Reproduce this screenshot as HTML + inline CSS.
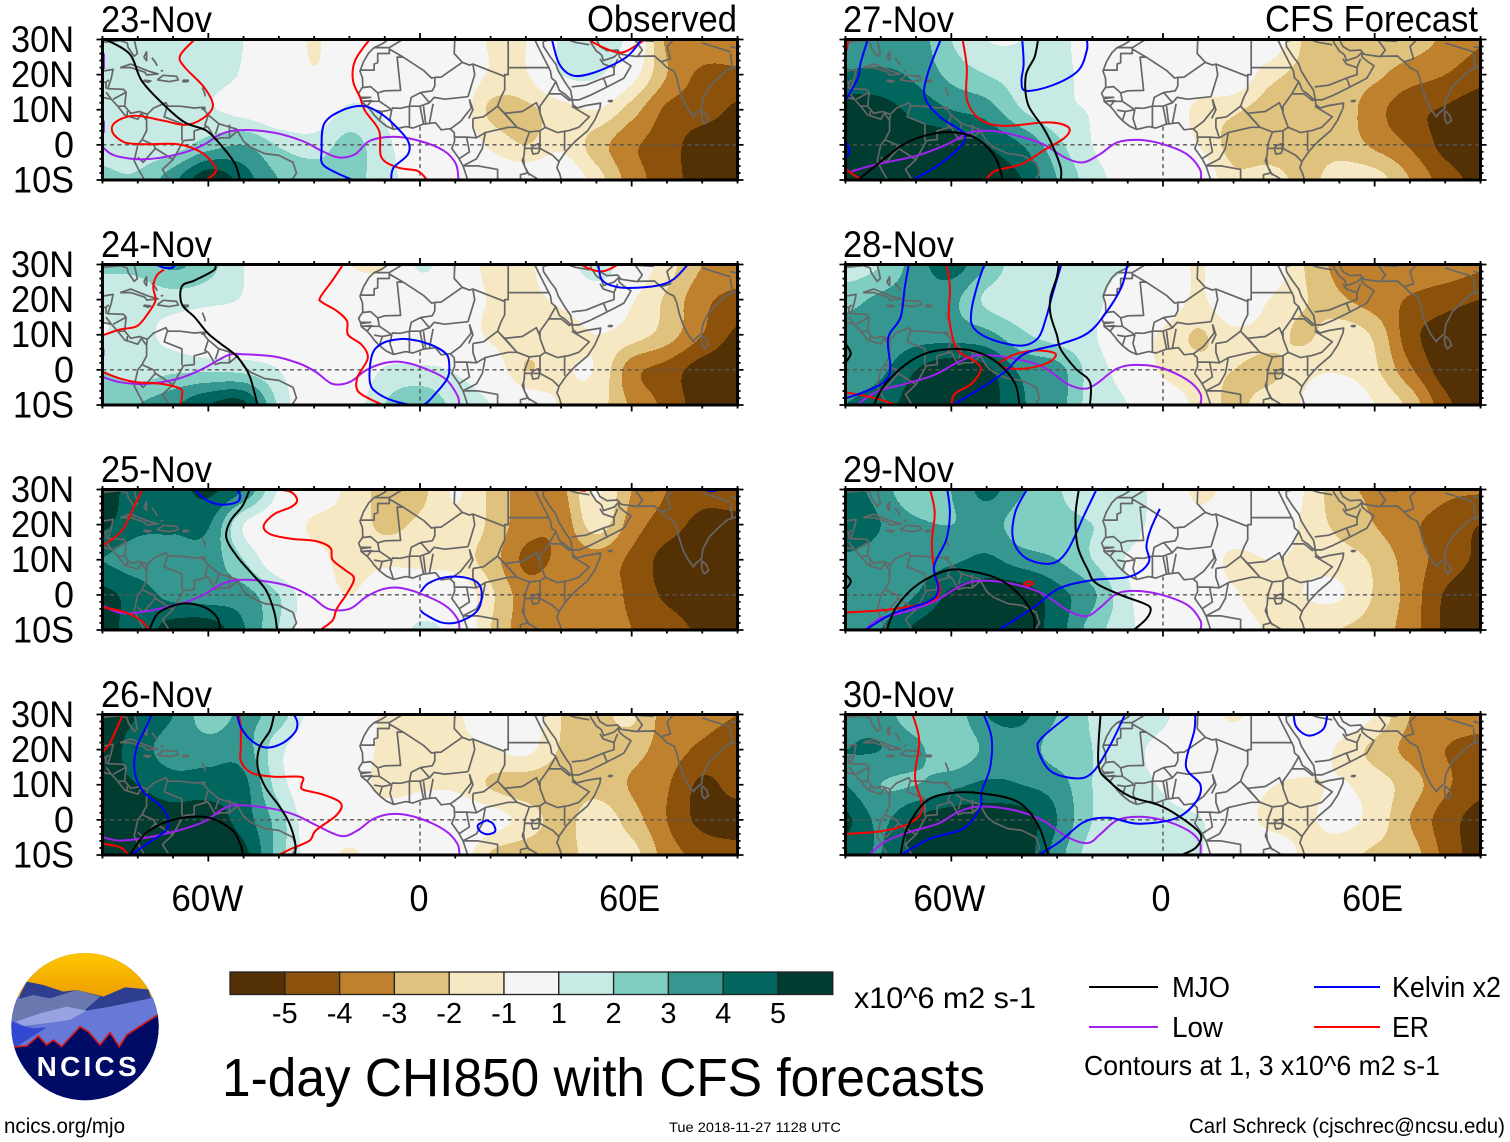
<!DOCTYPE html>
<html>
<head>
<meta charset="utf-8">
<title>1-day CHI850 with CFS forecasts</title>
<style>
html,body{margin:0;padding:0;background:#fff}
svg{display:block}
text{font-family:"Liberation Sans",sans-serif;fill:#000}
</style>
</head>
<body>
<svg id="chart" xmlns="http://www.w3.org/2000/svg" width="1510" height="1142" viewBox="0 0 1510 1142">
<rect x="0" y="0" width="1510" height="1142" fill="#fff"/>
<g id="panels"></g>

<g id="colorbar"></g>
<text x="854" y="1008" font-size="30" textLength="182" lengthAdjust="spacingAndGlyphs">x10^6 m2 s-1</text>
<text x="222" y="1096" font-size="54" textLength="763" lengthAdjust="spacingAndGlyphs">1-day CHI850 with CFS forecasts</text>

<g>
  <line x1="1089" x2="1158" y1="987" y2="987" stroke="#000" stroke-width="2"/>
  <text x="1172" y="997" font-size="29" textLength="58" lengthAdjust="spacingAndGlyphs">MJO</text>
  <line x1="1089" x2="1158" y1="1027" y2="1027" stroke="#a020f0" stroke-width="2"/>
  <text x="1172" y="1037" font-size="29" textLength="51" lengthAdjust="spacingAndGlyphs">Low</text>
  <line x1="1314" x2="1380" y1="987" y2="987" stroke="#0000ff" stroke-width="2"/>
  <text x="1392" y="997" font-size="29" textLength="109" lengthAdjust="spacingAndGlyphs">Kelvin x2</text>
  <line x1="1314" x2="1380" y1="1027" y2="1027" stroke="#ff0000" stroke-width="2"/>
  <text x="1392" y="1037" font-size="29" textLength="37" lengthAdjust="spacingAndGlyphs">ER</text>
  <text x="1084" y="1075" font-size="28" textLength="356" lengthAdjust="spacingAndGlyphs">Contours at 1, 3 x10^6 m2 s-1</text>
</g>

<text x="4" y="1133" font-size="21" textLength="121" lengthAdjust="spacingAndGlyphs">ncics.org/mjo</text>
<text x="669" y="1132" font-size="14" textLength="172" lengthAdjust="spacingAndGlyphs">Tue 2018-11-27 1128 UTC</text>
<text x="1189" y="1133" font-size="21" textLength="316" lengthAdjust="spacingAndGlyphs">Carl Schreck (cjschrec@ncsu.edu)</text>

<g transform="translate(0,940) scale(0.33333)">
  <defs>
    <clipPath id="logoClip"><circle cx="255" cy="260" r="221"/></clipPath>
    <linearGradient id="skyGrad" x1="0" y1="0" x2="0" y2="1"><stop offset="0" stop-color="#ffc800"/><stop offset="1" stop-color="#ed9f00"/></linearGradient>
  </defs>
  <g clip-path="url(#logoClip)">
    <rect x="30" y="35" width="450" height="330" fill="#6878d6"/>
    <rect x="30" y="35" width="450" height="135" fill="url(#skyGrad)"/>
    <polygon points="30,300 60,165 80,125 130,135 190,155 230,150 310,170 375,142 445,148 480,260 480,300" fill="#2f3f8f"/>
    <polygon points="30,245 45,180 100,165 150,175 230,150 300,170 250,215 140,225 50,250" fill="#6a78b0"/>
    <polygon points="30,340 30,240 120,250 210,240 260,212 330,200 465,172 480,220 480,340" fill="#6878d6"/>
    <polygon points="48,245 120,220 200,200 260,212 210,240 120,252 72,258" fill="#97a3e0"/>
    <polygon points="30,240 60,255 100,265 140,262 50,320 30,325" fill="#3348d0"/>
    <polygon points="30,322 80,318 115,288 140,315 160,300 185,320 240,260 265,275 300,315 330,278 358,320 380,285 480,220 480,490 30,490" fill="#000b66"/>
    <polyline points="30,322 80,318 115,288 140,315 160,300 185,320 240,260 265,275 300,315 330,278 358,320 380,285 480,220" fill="none" stroke="#d01818" stroke-width="5"/>
  </g>
  <text x="110" y="408" font-size="84" font-weight="bold" textLength="300" lengthAdjust="spacing" style="fill:#fff">NCICS</text>
</g>
</svg>

<script>
// ---------- Axis definitions ----------
const gridLons = [-90,-80,-70,-60,-50,-40,-30,-20,-10,0,10,20,30,40,50,60,70,80,90];
const gridLats = [30,20,10,0,-10];
const lonTickValues = [-60,0,60];
const lonTickLabels = ['60W','0','60E'];
const latTickValues = [30,20,10,0,-10];
const latTickLabels = ['30N','20N','10N','0','10S'];
const panelDates = ['23-Nov','24-Nov','25-Nov','26-Nov','27-Nov','28-Nov','29-Nov','30-Nov'];
const bandEdges = [-5,-4,-3,-2,-1,1,2,3,4,5];
const bandColors = ['#543005','#8c510a','#bf812d','#dfc27d','#f6e8c3','#f5f5f5','#c7eae5','#80cdc1','#35978f','#01665e','#003c30'];
const colorbarLabels = ['-5','-4','-3','-2','-1','1','2','3','4','5'];

// ---------- CHI850 fields (rows = gridLats, columns = gridLons), x10^6 m2/s ----------
const chiNov23 = [
[1.3,1.3,1.3,1.3,1.0,0,-1.1,0,0,0,0,-1.1,-1,1.2,1.8,0.5,-3.2,-3.3,-3.5],
[1.3,1.3,1.3,1.3,0.9,0,-0.9,0,0,0.6,0,-1.1,-1.1,1,1.2,-0.5,-3,-4.2,-4.2],
[2,1.3,1.2,1.1,0.6,0,0,1.2,0.8,0,0,-2.2,-2.2,-1.5,-1,-2.5,-4.2,-4.5,-5.2],
[1.7,1.3,1.5,2.5,3,1.9,1.5,2.3,1.3,0,0,-1.2,-2,-1.2,-2.5,-3.8,-4.5,-5.6,-5.6],
[2.2,2.2,3.7,5.8,4.5,3,2.5,2.2,1.6,0,0,0,0,0,-1.5,-3.5,-4.5,-5.5,-5.6]];
const chiNov24 = [
[2.2,2.3,3.2,2.4,1,0,0,-1,-1.1,1.2,0,-1.3,-1.2,0,1.8,0,-1.5,-3,-3.5],
[1.3,1.3,1.5,1.3,0.9,0,0,0,0,0,0,-1.1,-1.2,-0.8,0,-0.9,-2.2,-3.7,-4.3],
[1,1.2,0.7,0,0,0,0,0,0,0,0,-1.2,-1.3,-1.5,-1,-1.5,-2.5,-4,-5.2],
[2,1.5,1.8,1.8,1.7,1,0,0,1.1,1.2,0.9,0,-2,-1.2,-1.1,-3.6,-4.4,-5.5,-5.6],
[2.5,3,3.8,5,5.3,1.8,0,0.3,2,2.8,1.7,1,0,-1.1,-1.5,-3.2,-4.3,-5.5,-5.6]];
const chiNov25 = [
[5.5,4.5,4.6,5.2,4,0.9,0,-1.3,-2.3,-2.3,-0.9,-2.2,-3.5,-3.3,-0.9,-3,-4,-4.6,-4.5],
[5.2,4.3,4.2,4.1,1,0,-1.2,-1.4,-2.2,-1.8,-1.2,-2.2,-3.6,-3.7,-1.5,-3.5,-4.5,-5.3,-5.3],
[4,3.5,3.5,3.5,2,0,-0.5,-1.5,-1.3,-1.3,-1.5,-2.5,-4.2,-3.8,-3.5,-4.2,-5.4,-5.6,-5.6],
[5.3,4.5,3.7,3.5,3.4,2,0,-1,0,0,0,-1.8,-3.5,-3.3,-3.5,-4.2,-5.2,-5.6,-5.6],
[5.5,4.5,5.5,5.6,4.1,2,0,0,0,1.2,0.5,-2,-3.5,-3.5,-3.5,-4,-4.5,-5.2,-5.3]];
const chiNov26 = [
[5.5,5,4,2.5,3.2,2.5,0.5,0,-1.2,-1.3,-1.2,0,0,-2,-2.3,-1.8,-3.5,-3.7,-4],
[5.5,4.5,3.5,3.5,3.5,1.3,0,0,-1.3,-1.3,-1.3,-1.1,-0.7,-2.1,-2.3,-2.6,-3.5,-4.2,-4.5],
[5.3,5,4.5,4.5,4.3,1.5,0,0,-1.5,-1.2,-1.2,-2.1,-2.5,-2.6,-2.4,-3.1,-3.9,-5.2,-4.6],
[5.5,5.5,5.4,5.5,4.5,2.5,0,0,0,0,0,-0.5,-1.4,-2.4,-1.4,-2.5,-4,-5.3,-5.5],
[5.6,5.5,5.6,5.6,5.3,2.5,0.2,-1.2,0,0,0,-2.1,-2.6,-2.4,-1.6,-1.6,-3.5,-4.3,-4.6]];
const chiNov27 = [
[3,3.5,3.5,2,1,1,1.5,0,0,0,0,0,0,-2.1,-2.3,-2.5,-2.5,-3.2,-3.9],
[4.2,4.2,3.8,2.7,2,1.5,1.4,0.5,0,0,0,0,-1.6,-2.3,-2.5,-2.8,-3.5,-4,-4.6],
[5.5,5.4,4.7,4,3.5,2,1.2,0.9,0,0,-1.3,-1.8,-2.5,-2.6,-2.5,-3.6,-4.7,-5.1,-5.6],
[5.6,5.6,5.6,5.6,5,4,2.3,1,0,0,-1,-2.4,-2.7,-2.5,-2.4,-3.2,-4.1,-5.3,-5.6],
[5.6,5.6,5.6,5.6,5.5,5,3,1.5,0.5,0,0,-1.7,-1.5,-2.3,-1.5,-1.5,-3,-4.5,-5.3]];
const chiNov28 = [
[1.3,2,3.5,4.5,3,1.2,1.2,1.1,1,0,-1.1,0,0,-2,-3.3,-3.3,-3.3,-3.4,-3.8],
[2.7,3.2,3.5,3.3,1.8,1.2,1.2,1.2,0.5,0,-1.2,0,-1,-1.9,-2.8,-3.5,-4.1,-4.6,-5],
[3.3,3.3,3.6,3.6,3.3,2.2,1.5,1.1,0,-1.2,-2.1,-1.3,-1.5,-2.2,-1.4,-2.2,-4.6,-5.5,-5.6],
[3.5,3.8,5,5.6,5.2,3.8,3.4,1.5,0.5,-1.2,-1.7,-2,-2.3,-1.3,-1.1,-1.8,-3.8,-5.5,-5.6],
[4,4.5,5.5,5.6,5.5,4.1,3.5,1.5,1,0,-1.3,-2.2,-1.5,-0.9,0,-1,-2.3,-4.7,-5.6]];
const chiNov29 = [
[4.5,3.5,2.2,3,4.3,3.1,2.1,1.5,1.5,0.4,-1.3,-0.5,0,-1,-2.7,-3.1,-3.3,-3.8,-3.9],
[5,4,3.2,3,3.4,2.5,2.3,2,1.6,0.3,-0.5,0,0,-1.2,-2.3,-3,-3.8,-4.4,-5],
[3.8,3.5,3.5,3.8,4.2,3.5,3,2,0.9,0,0,-1.3,-1,-1.2,-1.5,-2.2,-3.5,-4.4,-5.2],
[3.7,3.3,4,5.2,5.6,5.6,4.4,3.2,1.2,0,0,-0.8,-1.8,-1,-0.9,-2.1,-3.4,-5.1,-5.6],
[3.5,4,5.2,5.6,5.6,5.5,4.5,2.5,1.3,0,0,0,-1.2,-1.6,-2,-2.5,-3.5,-5.2,-5.6]];
const chiNov30 = [
[3.8,3.5,2.3,2.3,4,4.2,3,1.9,1.5,1.2,0,-1.2,0,0,0,-1,-3,-3.5,-3.7],
[4,4,3.3,2.2,3.2,3.5,2.5,2,1.3,0.7,0,0,0,0,-1.2,-2.3,-3.3,-4,-4.3],
[4,3,3,3.7,4.2,4,3.5,2,1.3,0.9,0,0,-0.9,-1.2,-0.9,-1.5,-2.5,-3.8,-4.7],
[5.2,3.8,5.2,5.6,5.6,5.5,4,2,1.4,1.3,1.1,0,-1.3,-1.2,-0.7,-1.4,-3,-4.5,-5.4],
[4.5,4,5.3,5.6,5.6,5.6,3.5,1.5,1.2,1.3,1.1,0,0,-1.2,-1.6,-2.2,-2.5,-4.3,-5.5]];

// ---------- Contour series: lists of [lon,lat] ----------
const mjoNov23 = [[[-89.1,30],[-82.3,25.9],[-78.9,18.3],[-72.8,11.6],[-66.7,6.4],[-60.5,4],[-55.8,-.8],[-52.4,-5.5],[-51,-10]]];
const kelvinNov23 = [
[[-8.2,-10],[-7.5,-6.5],[-3.4,-2.7],[-3.4,1.1],[-7.5,5.9],[-11.6,9.2],[-16.3,11.1],[-22.4,9.7],[-27.2,5.9],[-27.9,-1.7],[-27.6,-5.5],[-23.8,-7.9],[-19,-10]],
[[37.4,30],[39.5,23],[43.5,19.7],[49.7,20.7],[57.8,24.5],[61.2,27.8],[62.6,30]]];
const erNov23 = [
[[-63.9,30],[-68,25.4],[-66.7,22.1],[-61.2,16.4],[-58.7,11.1],[-61.9,7.3],[-66.7,5.7],[-72.8,6.9],[-81,8.3],[-86.4,6.4],[-87.1,3.5],[-83.7,.7],[-78.2,.2],[-68.7,.2],[-61.9,-2.2],[-57.8,-7],[-60.5,-10]],
[[-14.3,30],[-18.4,24],[-19,18.3],[-17,13.5],[-15.6,9.7],[-11.6,4],[-10.9,-3.6],[-6.1,-6.5],[-.7,-7.4],[2,-10]],
[[48.3,30],[49,29.2],[54,26.9],[57.8,26.4],[62.6,29.2],[63.3,30]]];
const lowNov23 = [
[[-89.8,-.8],[-86.4,-3.1],[-78.2,-4.1],[-68.7,-2.7],[-61.9,-.3],[-56.5,3],[-51,4.2],[-41.5,3.5],[-33.3,1.1],[-27.9,-1.7],[-23.1,-3.6],[-18.4,-2.7],[-14.3,1.1],[-7.5,2.3],[0,1.1],[6.8,-1.7],[10.2,-5.5],[10.9,-10]],
[[-89.6,26],[-89.6,21.6]],
[[-89.6,6.9],[-89.6,3.5]]];

const mjoNov24 = [[[-58.1,30.3],[-58.4,28.4],[-63.8,25.5],[-67.5,23.8],[-67.5,18.7],[-63.8,14.9],[-60.2,10.5],[-56.7,7.6],[-51.9,3.8],[-48.4,-1.5],[-46,-10.2]]];
const kelvinNov24 = [
[[-75.6,30.3],[-72.6,29.1],[-70.2,29.1],[-69.4,30.3]],
[[50.5,30.3],[51.4,25.9],[54.3,24],[59,23.3],[67.3,24],[72,25.9],[76.2,30.3]],
[[-.6,8.3],[-5.3,8.8],[-10.6,7.6],[-13.6,4.2],[-14.2,-3.5],[-11.8,-6.8],[-5.9,-9.3],[.6,-10],[4.7,-6.4],[7.7,-2.5],[8.3,.4],[7.7,4.2],[4.1,6.7],[-.6,8.3]]];
const erNov24 = [
[[-21.6,30.3],[-24.8,25.5],[-28.3,20.6],[-27.7,19.2],[-23.6,16.8],[-20.7,13.9],[-20.4,10],[-16.5,7.1],[-14.8,3.3],[-17.7,-2],[-17.7,-5.9],[-14.2,-8.3],[-10.6,-9.9]],
[[-72.6,28.5],[-74.6,26.9],[-75.6,23.5],[-75,19.7],[-77.3,15.8],[-80.3,12.4],[-85,11.5],[-90,9.8]],
[[-90,-.6],[-85,-2.5],[-80.3,-3.5],[-73.2,-4],[-67.9,-5.4],[-67.5,-7.3],[-67.9,-10]],
[[44.9,30.3],[49,28.4],[52.5,28.2],[56.7,30.3]]];
const lowNov24 = [
[[-90,-2],[-85,-3.5],[-77.9,-4],[-68.5,-2.5],[-61.4,.4],[-54.3,4.2],[-49.6,4.4],[-41.3,3.8],[-34.2,1.8],[-29.5,-.6],[-24.8,-4],[-20,-3.5],[-15.3,-.1],[-10.6,1.8],[-5.9,2.3],[0,.9],[7.1,-2.5],[10.6,-7.3],[11.1,-10]],
[[-89.7,6],[-89.7,4]]];

const mjoNov25 = [
[[-48.2,30.3],[-50.2,25.5],[-53.7,21.1],[-54.9,16.3],[-51.9,11],[-47.8,6.2],[-43.7,1.4],[-41.3,-4.9],[-40.5,-10]],
[[-76.7,-10],[-74.4,-5.4],[-69.7,-3],[-64.9,-2.5],[-60.2,-4],[-57.3,-6.8],[-56.7,-10]]];
const kelvinNov25 = [
[[-64.1,30.3],[-61.2,27.4],[-56.7,25.7],[-51.9,26.4],[-51,28.4],[-52.2,30.3]],
[[.2,.9],[2.4,3.3],[7.1,5],[12.4,5],[16.5,3.3],[17.5,-.6],[15.9,-4.9],[10.6,-7.8],[5.9,-7.8],[1.2,-5.4],[.2,-4.4]],
[[80.9,30],[82.6,29.5],[84.7,30]]];
const erNov25 = [
[[-78.5,30.3],[-80.9,25.5],[-82.6,21.6],[-85,17.7],[-90,13.9]],
[[-41.1,30],[-36.6,29.3],[-34.8,26.9],[-36.6,25],[-41.3,23],[-44.3,19.7],[-42.5,17.3],[-36.6,16],[-29.5,15.3],[-25.4,13.4],[-24.8,10],[-21.3,7.1],[-18.7,4.7],[-20.7,.4],[-23.6,-4],[-24.8,-7.3],[-28.3,-10]],
[[-90,-3.5],[-83.8,-4.9],[-79.1,-7.3],[-76.7,-10]],
[[44.3,30],[46.6,29.6],[47.2,30]]];
const lowNov25 = [[[-90,-3],[-85,-5.1],[-79.1,-4.9],[-69.7,-3],[-62.6,-.6],[-56.7,2.8],[-51.9,4.2],[-44.9,4],[-36.6,2.3],[-30.7,-.6],[-26,-4],[-20,-4],[-15.3,-.6],[-10.6,1.6],[-5.9,2],[0,.4],[7.1,-3],[10.6,-6.8],[11.2,-10]]];

const mjoNov26 = [
[[-41.3,30.3],[-42.5,25.5],[-45.5,20.6],[-46,14.9],[-43.7,9.1],[-40.1,4.2],[-37.2,-.6],[-35.4,-6.4],[-35.4,-10]],
[[-82,-9.6],[-77.9,-4],[-72,-.6],[-64.9,.9],[-59,.4],[-53.1,-3],[-50.8,-7.3],[-50.2,-10]]];
const kelvinNov26 = [
[[-75.9,30.3],[-77.9,25.9],[-80.3,20.6],[-80.9,13.9],[-78.5,8.1],[-73.8,4.2],[-71.4,.4],[-72,-3],[-76.7,-6.4],[-82,-10]],
[[-51.9,30.3],[-50.8,26.4],[-47.8,22.6],[-43.7,20.6],[-39,21.8],[-35.4,25],[-34.8,27.9],[-36,30.3]],
[[18.9,-.1],[20.7,-1.1],[21.3,-3.3],[18.9,-4.1],[16.8,-3],[16.5,-1.4],[18.9,-.1]]];
const erNov26 = [
[[-84.1,30.3],[-86.2,25.5],[-88,21.6],[-90,19.2]],
[[-51.4,30.3],[-50.8,26.4],[-50.8,20.6],[-50.8,16.8],[-47.8,13.4],[-41.3,12.3],[-33.6,12.2],[-33.6,10],[-33.1,8.6],[-27.2,7.1],[-22.4,4.7],[-23.6,1.4],[-29.5,-3],[-31.3,-5.9],[-36.6,-8.3],[-40.1,-10]],
[[-90,-6.8],[-85,-7.8],[-82.6,-10]]];
const lowNov26 = [[[-90,-4.9],[-85,-5.9],[-76.7,-4.9],[-68.5,-3],[-61.4,-.6],[-55.5,3.3],[-51.4,4.2],[-42.5,3.3],[-35.4,1.4],[-29.5,-1.5],[-22.4,-4.6],[-17.7,-3],[-13,.4],[-7.1,1.7],[0,.4],[7.1,-3],[10.6,-6.8],[11.2,-10]]];

const mjoNov27 = [
[[-35.4,30],[-36.4,25],[-38.9,19.7],[-38.3,11.6],[-34,5],[-31.5,.2],[-29,-6.5],[-29,-10]],
[[-86.4,-10],[-80.9,-5.5],[-73.5,.2],[-66,3],[-58.6,3.5],[-52.5,1.6],[-47.5,-3.6],[-45.4,-10]]];
const kelvinNov27 = [
[[-83.7,30],[-85.8,23],[-86.4,19.2],[-90,12.6]],
[[-89.8,1.1],[-88.9,-1.7],[-89.7,-3.6]],
[[-63,30],[-66.7,20.2],[-67.5,13.5],[-63,7.8],[-56.2,3],[-58.6,-1.7],[-64.8,-6.5],[-71,-10]],
[[-39.9,30],[-39.5,23],[-40.1,18.3],[-38.9,15.4],[-31.5,16.9],[-24.1,21.1],[-21.6,26.9],[-21.6,30]]];
const erNov27 = [
[[-56.8,30],[-55.6,22.1],[-55.6,13],[-51.9,7.3],[-45.1,5.4],[-32.7,6.4],[-26.8,5],[-27.8,2.1],[-34,-1.7],[-40.1,-5.5],[-47.5,-7.4],[-50.2,-10]],
[[-89.2,29.9],[-89.7,26.9]],
[[-89.8,-7],[-87.1,-8.9],[-85.2,-10]]];
const lowNov27 = [[[-88.5,-7.6],[-80.9,-5.5],[-69.8,-3.1],[-61.1,.2],[-54.9,3.5],[-48.8,4],[-41.4,2.6],[-34,.2],[-27.8,-3.6],[-22.8,-5],[-17.9,-2.7],[-13,.7],[-6.8,1.4],[0,.2],[6.8,-2.7],[10.5,-7],[10.7,-10]]];

const mjoNov28 = [
[[-29.5,30.3],[-30.1,26.4],[-31.9,20.6],[-31.9,15.8],[-30.1,10],[-28.9,5.7],[-24.8,.4],[-20.7,-3.5],[-20.7,-10]],
[[-82,-10],[-79,-4.4],[-73.1,1.4],[-67.2,4.7],[-60.2,5.9],[-53.1,5.2],[-46.6,1.8],[-41.9,-4],[-40.7,-10]],
[[-89.8,7.1],[-88.5,4.7],[-89.8,2.3]]];
const kelvinNov28 = [
[[-72,30.3],[-73.2,23.5],[-74.4,14.9],[-77.9,9.1],[-77.3,.4],[-79.1,-3.5],[-85,-6.4],[-90,-8.1]],
[[-50.5,30.3],[-52.5,24.5],[-54.3,16.8],[-53.7,12],[-48.4,8.6],[-40.1,6.9],[-35.4,9.1],[-33.1,14.9],[-31.3,21.6],[-28.7,30.3]],
[[-10,30.3],[-11.8,23.5],[-16.5,15.8],[-21.3,10.5],[-28.3,7.6],[-39,4.7],[-44.9,-.6],[-51.9,-5.4],[-59.6,-10]]];
const erNov28 = [
[[-61.4,30.3],[-60.4,23.5],[-60.7,15.8],[-59.6,9.1],[-57.9,5.2],[-53.1,2.3],[-51.7,-.1],[-54.3,-4],[-59,-6.8],[-60,-10]],
[[-46.6,1.8],[-42.5,4.2],[-36.6,5.5],[-31.3,5],[-30.5,3.8],[-33.1,1.8],[-39,.4],[-44.9,.6],[-46.6,1.8]],
[[-90,-6.4],[-82.6,-7.8],[-75.5,-10]]];
const lowNov28 = [[[-86.8,-10],[-81.5,-6.4],[-73.2,-4],[-64.9,-1.5],[-57.9,2.3],[-51.9,4.2],[-42.5,3.3],[-34.2,.9],[-27.1,-4],[-22.4,-5.4],[-18.9,-4],[-13,.4],[-7.1,1.4],[0,.4],[7.1,-3],[10.6,-6.8],[10.6,-10]]];

const mjoNov29 = [
[[-23.8,30.3],[-24.8,22.6],[-24.2,13.9],[-21.3,7.1],[-18.9,3.3],[-11.8,-.1],[-5.3,-2.5],[-3.5,-4],[-4.7,-6.8],[-8.3,-10]],
[[-78.3,-10],[-75.6,-3.5],[-69.7,2.8],[-61.4,6.9],[-54.3,6.7],[-46,4.2],[-40.1,-.6],[-36.6,-6.4],[-36.6,-10]],
[[-89.8,5.7],[-88.5,3.8],[-89.8,1.8]]];
const kelvinNov29 = [
[[-61.2,30.3],[-60.4,23.5],[-61.4,15.8],[-64.9,8.1],[-63.7,1.4],[-66.7,-2],[-76.7,-5.4],[-84.4,-10]],
[[-38.4,30.3],[-41.9,23.5],[-42.5,15.8],[-38.9,10.5],[-31.9,8.9],[-27.2,12.4],[-22.4,22.6],[-18.7,30.3]],
[[-.9,24.5],[-3.5,18.7],[-4.7,13.9],[-4.1,9.1],[-9.4,5.2],[-20,4.2],[-29.5,1.8],[-36.6,-3.5],[-46.6,-10]]];
const erNov29 = [
[[-66.1,30.3],[-64.7,23.5],[-65.5,14.9],[-64.7,6.2],[-63.2,1.4],[-66.1,-2],[-77.9,-4.2],[-90,-5]],
[[-39.6,3.1],[-38,3.8],[-36.8,3.3],[-38,2.6],[-39.6,3.1]]];
const lowNov29 = [[[-84.4,-10],[-80.3,-6.8],[-73.2,-4.9],[-64.9,-2],[-57.9,2.3],[-51.9,4],[-42.5,3.1],[-34.2,.4],[-27.1,-4.4],[-21.8,-6.1],[-17.7,-3.5],[-13,.4],[-7.1,1.1],[0,-.1],[7.1,-3],[10.6,-7.3],[10.6,-10]]];

const mjoNov30 = [
[[-17.7,30.3],[-18.3,15.8],[-15.3,11],[-9.4,6.7],[-1.2,4.2],[4.7,.9],[10.6,-4],[9.4,-7.8],[5.3,-10]],
[[-74.4,-10],[-72.6,-2.5],[-67.3,5.2],[-60.2,7.6],[-51.9,7.6],[-41.3,5.2],[-35.4,-1.5],[-32.5,-10]]];
const kelvinNov30 = [
[[-51,30.3],[-48.6,23.5],[-49,14.9],[-51.4,8.1],[-51.9,3.3],[-56.7,-2.5],[-66.1,-5.4],[-74.4,-10]],
[[-26,30.3],[-34.2,23.5],[-35.4,20],[-31.9,13.9],[-24.8,11.8],[-20.1,13.4],[-15.3,20.6],[-10.6,30.3]],
[[9.1,30.3],[8.9,25.5],[6.5,15.3],[10.6,10],[9.4,5.2],[3.5,.4],[-7.1,-1.1],[-15.3,.6],[-22.4,-.6],[-29.5,-6.4],[-35.4,-10]],
[[37,30.3],[37.8,26.4],[41.3,24],[45.5,25.9],[46.6,30.3]]];
const erNov30 = [[[-71.1,30.3],[-69.1,22.6],[-70.3,12],[-68.2,3.3],[-72.1,-1.1],[-80.3,-3.3],[-90,-4]]];
const lowNov30 = [[[-83.2,-10],[-79.1,-6.4],[-72,-3.5],[-63.8,-1.1],[-57.9,2.3],[-51.9,3.8],[-42.5,2.8],[-34.2,-.1],[-27.1,-4.9],[-21.3,-6.6],[-17.7,-4],[-13,-.1],[-7.1,.9],[0,-.1],[7.1,-3],[10.4,-6.3],[10.6,-10]]];

// ---------- Geography ----------
const coastlines = [
[[-9.8,31],[-9.6,29.5],[-11,28.6],[-13,27.7],[-14.5,26.2],[-16,23.7],[-17,21],[-16.3,19],[-16.2,16.5],[-17.4,14.7],[-16.7,13],[-16.7,12.4],[-15,11],[-13.7,9.5],[-13,8.5],[-11.5,6.9],[-9.5,5.3],[-7.5,4.4],[-4,5.2],[-2,4.8],[1,5.9],[4.4,6.3],[6,4.3],[8.5,4.6],[9.7,3.5],[9.8,1],[9,-1],[11,-3.8],[12.2,-6],[13.2,-9],[13.7,-11]],
[[32.5,30],[33.7,27.5],[35.5,24],[37,21],[37.3,19],[38.5,18],[39.5,15.5],[41,14.5],[43.2,12.5],[43.3,11.5],[44.5,10.5],[47,11.2],[51.2,11.9],[51,10.4],[49.5,7],[47.5,4],[44,1],[41.5,-1.7],[39.5,-4.5],[38.8,-6.5],[39.5,-8],[40.4,-11]],
[[34.9,29.5],[35,28],[37,25],[38.5,23],[39.2,21],[41,18],[42.7,15.5],[43.2,12.8],[45,12.8],[48,14],[52,16],[55,17.5],[57.8,19],[59.8,22.5],[58,23.7],[56.5,25],[56.3,26.2],[55,25],[52,24],[51.5,25.5],[51,26],[50,26.7],[48.5,29],[48,30.5]],
[[48.5,30],[50,30],[51,28],[53,26.8],[56,27],[57,25.8],[61,25.2],[66.5,25.3],[67,24.8],[68.5,23.5],[70,22],[72,21],[72.8,19],[73.5,16],[74.5,13],[76,10],[77.5,8],[78.2,9],[79.8,10.3],[80.2,13],[82,16.5],[85,19.5],[87,21.3],[89,22],[91,22.5]],
[[80,9.7],[81.2,8.5],[81.8,7],[80.6,6],[80,7],[79.8,8.5],[80,9.7]],
[[53.4,12.6],[54.5,12.6],[54.2,12.3],[53.4,12.4],[53.4,12.6]],
[[-91,29.3],[-89,29.3],[-85,29.7],[-83,29],[-82.7,27.7],[-81,25.2],[-80.1,26],[-81,30],[-81.3,31]],
[[-91,21],[-90,21],[-87,21.5],[-87.5,19],[-88.5,16],[-84,15.8],[-83.3,15],[-83.7,11],[-82,9],[-79.5,9.5],[-77.3,8.7],[-75.5,10.5],[-72,12],[-71.5,11],[-68,11],[-64,10.5],[-61.8,10.7],[-60,8.5],[-57,6],[-52,4.5],[-50,1],[-48,-.7],[-44,-2.5],[-40,-3],[-36,-5],[-35,-8],[-37,-11]],
[[-91,13.7],[-87.5,13],[-85.7,11],[-83.7,8.5],[-80,7.3],[-79,9],[-77.5,7],[-77.5,4],[-78.8,1.5],[-80,0],[-81,-4.5],[-79.8,-7],[-77.5,-11]],
[[-85,22],[-82,23],[-77,21],[-74.2,20.2],[-77.5,19.9],[-78,20.7],[-82,22],[-85,22]],
[[-74.5,18.5],[-72.8,19.8],[-69,19.5],[-68.5,18.5],[-71,18],[-74.5,18.5]],
[[-78.3,18.4],[-76.3,18.2],[-77,17.8],[-78.3,18.2],[-78.3,18.4]],
[[-67.2,18.4],[-65.7,18.4],[-65.8,18],[-67.2,18],[-67.2,18.4]],
[[-78.3,25],[-77.5,24],[-77.5,26.5],[-78.3,25]],
[[-76,24.8],[-75,23.5],[-74.5,22.5]],[[-73.5,21],[-72.8,21.2]],
[[-61.7,16.3],[-61,14.6],[-60.9,13.8]],[[-61.8,10.6],[-61,10.7],[-61,10.1],[-61.8,10.2],[-61.8,10.6]],
[[31.8,-.4],[33.5,.3],[34,-1],[33.5,-2.4],[32,-2.6],[31.6,-1.3],[31.8,-.4]],
[[29.3,-3.5],[29.6,-6],[31,-8.6]],[[34.2,-10],[34.8,-11]]];
const borders = [
[[-13,27.7],[-8.7,27.7],[-4.9,30]],[[-8.7,27.7],[-8.7,26],[-12,26],[-12,23.4],[-13,23],[-13,21.3],[-17,21.3]],
[[-8.7,27.3],[-4.8,25],[-6.5,25],[-5.5,15.5],[-10,15.4],[-12,14.8],[-14,16.6],[-16.4,16.3]],
[[-4.8,25],[1,21.2],[3.3,19],[4.2,19.2],[4.2,16.8],[3.5,15.4],[0.2,14.9]],[[4.2,19.2],[6,19.3],[12,23.5]],
[[12,23.5],[9.7,26],[9.9,31]],[[12,23.5],[14,22.7],[15,23],[24,19.5],[24,20],[25,20],[25,31]],
[[25,22],[36.8,22]],[[24,19.5],[24,15.7],[22.9,13.5],[22,11]],[[15,23],[15.5,20],[13.6,13.7]],
[[2.7,12],[4,13.5],[7,13],[13.6,13.7]],[[14,13],[14.5,10.5],[11.5,6.7],[8.7,4.6]],[[14,13],[15,10],[13.8,7.5]],
[[15,7.5],[18,8],[22,11],[27.5,5],[25,5],[18.5,3.5],[16,2],[15,5],[15,7.5]],
[[22,11],[24,9],[27.5,5],[31,3.7],[34,4],[35.5,5],[34,9],[34,11],[36.5,14.5],[38.5,18]],
[[24,9],[29,9.5],[33,12],[34,9.5]],
[[36.5,14.5],[40,14.5],[42.5,12.5]],[[43,11],[48,8],[45,5],[42,4],[41,3.9],[41,-1.7]],[[35.5,5],[39,3.5],[41,3.9]],
[[34,4],[34,1],[34,-1],[37.6,-3],[39.3,-4.7]],[[31,3.7],[29.7,0],[29.5,-3],[29,-4.5],[30.5,-8],[28.5,-8.5],[28.5,-11]],[[29.7,-1],[34,-1]],
[[30.5,-8],[33,-9.5],[34.5,-11]],[[9.8,2.2],[13.2,2.2],[16,2]],[[18.5,3.5],[17.7,-1],[16,-4],[12.2,-6]],[[13.2,2.2],[14,-2],[11,-4]],
[[12.3,-6],[16.5,-6],[22,-7],[22,-11]],[[22,-11],[24,-11],[24,-11]],
[[-16.7,12.4],[-11.5,12.4],[-12,14.8]],[[-16.7,12.4],[-13.7,12.6],[-15,11]],[[-13,9.9],[-10.7,9.5],[-11.5,6.9]],
[[-7.5,4.4],[-8.5,7.5],[-8,10],[-10.7,9.5]],[[-11.5,12.4],[-8,10]],[[-8,10.5],[-5.5,10.4],[-3,11],[-2.5,13.5],[0.2,14.9]],
[[-3,11],[0,11]],[[-3,5],[-3,11]],[[1,6],[0,11]],[[1.6,6.2],[1,11]],[[2.7,6.3],[3.7,11.7]],[[0,11],[2.7,12],[0.2,14.9]],
[[-16.7,13.5],[-14,13.5],[-16.7,13.2]],
[[-77.3,8.7],[-77.5,7.2]],[[-71.5,11.5],[-72.5,8],[-67.5,6],[-67.5,1.2]],[[-67,1.2],[-70,-4.2]],[[-78.8,1.5],[-75.5,0],[-75,-1]],
[[-80,-3.5],[-78.5,-5],[-75,-1],[-70,-4.2],[-73,-7],[-70.5,-11]],[[-67,1.2],[-64,1.5],[-64,4],[-60.5,5]],
[[-60,8.5],[-61,5.5],[-60,5]],[[-60,5],[-58,1.5],[-56.5,2],[-54,2],[-51.5,4.2]],[[-57,6],[-58,3]],[[-54,2],[-54,5.8]],[[-70.5,-11],[-65,-10],[-65,-11]],
[[-91,16],[-90,17.8],[-89,17.8],[-88.2,18.5]],[[-89,17.8],[-89,16]],[[-89,15],[-87.5,13]],[[-83.3,15],[-87,13]],[[-85.7,11],[-83.7,11]],[[-83,9.6],[-83,8.3]],
[[43,16.5],[47,17],[52,19],[55,20],[55,22],[52,23],[51,24.5]],[[52,19],[53,16.5]],[[55,22],[56,24.5]],[[39,31],[44,29.2],[48,28.5]],[[37,30],[35,29.5]],
[[61.5,25],[63,27],[61,29.8],[61,31]],[[68.5,23.7],[71,24.5],[70,28],[74,32]],[[61,29.8],[66,29.5],[70,32]],[[80,29],[88,26.5]],[[88,28],[92,27]],[[88,26],[88.5,22]]];

// ---------- Per-panel lookups ----------
const chiFields = [chiNov23,chiNov24,chiNov25,chiNov26,chiNov27,chiNov28,chiNov29,chiNov30];
const mjoLines = [mjoNov23,mjoNov24,mjoNov25,mjoNov26,mjoNov27,mjoNov28,mjoNov29,mjoNov30];
const kelvinLines = [kelvinNov23,kelvinNov24,kelvinNov25,kelvinNov26,kelvinNov27,kelvinNov28,kelvinNov29,kelvinNov30];
const erLines = [erNov23,erNov24,erNov25,erNov26,erNov27,erNov28,erNov29,erNov30];
const lowLines = [lowNov23,lowNov24,lowNov25,lowNov26,lowNov27,lowNov28,lowNov29,lowNov30];

// ---------- Layout ----------
const NS = 'http://www.w3.org/2000/svg';
const pxPerLon = 3.528, lonZeroLeft = 420, lonZeroRight = 1163;
const pxPerLat = 3.512, firstTop = 39.5, rowStep = 225;

function mk(tag, parent) { const e = document.createElementNS(NS, tag); parent.appendChild(e); return e; }
function xScale(i, lon) { return (i < 4 ? lonZeroLeft : lonZeroRight) + lon * pxPerLon; }
function yScale(i, lat) { return firstTop + (i % 4) * rowStep + (30 - lat) * pxPerLat; }

function cr(a, b, c, d, t) {
  return 0.5 * ((2*b) + (-a+c)*t + (2*a-5*b+4*c-d)*t*t + (-a+3*b-3*c+d)*t*t*t);
}
function bandIndex(v) {
  let k = 0;
  while (k < bandEdges.length && v >= bandEdges[k]) k++;
  return k;
}
function smoothPath(i, pts) {
  const P = pts.map(p => [xScale(i, p[0]), yScale(i, p[1])]);
  let d = 'M' + P[0][0].toFixed(1) + ' ' + P[0][1].toFixed(1);
  for (let k = 0; k < P.length - 1; k++) {
    const p0 = P[Math.max(k-1,0)], p1 = P[k], p2 = P[k+1], p3 = P[Math.min(k+2,P.length-1)];
    const c1x = p1[0] + (p2[0]-p0[0])/6, c1y = p1[1] + (p2[1]-p0[1])/6;
    const c2x = p2[0] - (p3[0]-p1[0])/6, c2y = p2[1] - (p3[1]-p1[1])/6;
    d += 'C' + c1x.toFixed(1)+' '+c1y.toFixed(1)+' '+c2x.toFixed(1)+' '+c2y.toFixed(1)+' '+p2[0].toFixed(1)+' '+p2[1].toFixed(1);
  }
  return d;
}
function straightPath(i, lines) {
  return lines.map(l => l.map((p, k) => (k ? 'L' : 'M') + xScale(i, p[0]).toFixed(1) + ' ' + yScale(i, p[1]).toFixed(1)).join('')).join('');
}
function addText(parent, x, y, size, str, len, anchor) {
  const t = mk('text', parent);
  t.setAttribute('x', x);
  t.setAttribute('y', y);
  t.setAttribute('font-size', size);
  if (len) { t.setAttribute('textLength', len); t.setAttribute('lengthAdjust', 'spacingAndGlyphs'); }
  if (anchor) t.setAttribute('text-anchor', anchor);
  t.textContent = str;
  return t;
}

function drawField(i, g) {
  const field = chiFields[i];
  const x0 = Math.round(xScale(i, -90)), x1 = Math.round(xScale(i, 90));
  const y0 = Math.round(yScale(i, 30)), y1 = Math.round(yScale(i, -10));
  const paths = bandColors.map(() => []);
  const nr = gridLats.length, nc = gridLons.length;
  const col = new Array(nc);
  for (let y = y0; y < y1; y++) {
    const v = Math.min(nr - 1.0001, Math.max(0, (y + 0.5 - yScale(i, 30)) / pxPerLat / 10));
    const r = Math.floor(v), tv = v - r;
    for (let c = 0; c < nc; c++) {
      col[c] = cr(field[Math.max(r-1,0)][c], field[r][c], field[r+1][c], field[Math.min(r+2,nr-1)][c], tv);
    }
    let runStart = x0, cur = -1;
    for (let x = x0; x <= x1; x++) {
      let b = -2;
      if (x < x1) {
        const lon = (x + 0.5 - xScale(i, 0)) / pxPerLon;
        const u = Math.min(nc - 1.0001, Math.max(0, (lon + 90) / 10));
        const c = Math.floor(u), tu = u - c;
        b = bandIndex(cr(col[Math.max(c-1,0)], col[c], col[c+1], col[Math.min(c+2,nc-1)], tu));
      }
      if (b !== cur) {
        if (cur >= 0) paths[cur].push('M' + runStart + ' ' + y + 'h' + (x - runStart) + 'v1h' + (runStart - x) + 'z');
        cur = b; runStart = x;
      }
    }
  }
  paths.forEach((p, k) => {
    if (!p.length) return;
    const e = mk('path', g);
    
    
    e.setAttribute('d', p.join(''));
    e.setAttribute('fill', bandColors[k]);
    e.setAttribute('shape-rendering', 'crispEdges');
  });
}

function drawSeries(i, g, lines, color, seriesName) {
  lines.forEach(l => {
    const e = mk('path', g);
    
    
    e.setAttribute('d', smoothPath(i, l));
    e.setAttribute('fill', 'none');
    e.setAttribute('stroke', color);
    e.setAttribute('stroke-width', '2');
  });
}

function drawPanel(i) {
  const root = document.getElementById('panels');
  const g = mk('g', root);
  
  
  const L = xScale(i, -90), R = xScale(i, 90), T = yScale(i, 30), B = yScale(i, -10);

  const cp = mk('clipPath', g);
  cp.setAttribute('id', 'clip' + i);
  const cr2 = mk('rect', cp);
  cr2.setAttribute('x', L); cr2.setAttribute('y', T);
  cr2.setAttribute('width', R - L); cr2.setAttribute('height', B - T);

  const inner = mk('g', g);
  inner.setAttribute('clip-path', 'url(#clip' + i + ')');
  drawField(i, inner);

  const map = mk('path', inner);
  
  
  map.setAttribute('d', straightPath(i, coastlines) + straightPath(i, borders));
  map.setAttribute('fill', 'none');
  map.setAttribute('stroke', '#666');
  map.setAttribute('stroke-width', '1.7');
  map.setAttribute('stroke-linejoin', 'round');

  const eq = mk('path', inner);
  
  
  eq.setAttribute('d', 'M' + L + ' ' + yScale(i, 0) + 'H' + R + 'M' + xScale(i, 0) + ' ' + yScale(i, 5.2) + 'V' + B);
  eq.setAttribute('fill', 'none');
  eq.setAttribute('stroke', '#555');
  eq.setAttribute('stroke-width', '1.4');
  eq.setAttribute('stroke-dasharray', '4 3.5');

  drawSeries(i, inner, lowLines[i], '#a020f0', 'low-contour');
  drawSeries(i, inner, erLines[i], '#ff0000', 'er-contour');
  drawSeries(i, inner, kelvinLines[i], '#0000ff', 'kelvin-contour');
  drawSeries(i, inner, mjoLines[i], '#000000', 'mjo-contour');

  // Ticks
  let td = '';
  for (let lon = -90; lon <= 90; lon += 10) {
    const major = lonTickValues.indexOf(lon) >= 0;
    const x = xScale(i, lon), len = major ? 6.5 : 3.5;
    td += 'M' + x + ' ' + T + 'v' + (-len) + 'M' + x + ' ' + B + 'v' + len;
  }
  for (let lat = -10; lat <= 30; lat += 2) {
    const major = latTickValues.indexOf(lat) >= 0;
    const y = yScale(i, lat), len = major ? 6 : 3;
    td += 'M' + L + ' ' + y + 'h' + (-len) + 'M' + R + ' ' + y + 'h' + len;
  }
  const ticks = mk('path', g);
  
  
  ticks.setAttribute('d', td);
  ticks.setAttribute('stroke', '#000');
  ticks.setAttribute('stroke-width', '1.8');
  ticks.setAttribute('fill', 'none');

  const frame = mk('rect', g);
  
  
  frame.setAttribute('x', L); frame.setAttribute('y', T);
  frame.setAttribute('width', R - L); frame.setAttribute('height', B - T);
  frame.setAttribute('fill', 'none');
  frame.setAttribute('stroke', '#000');
  frame.setAttribute('stroke-width', '3');

  // Date label
  const dt = addText(g, L - (i < 4 ? 1.5 : 2.5), T - 7.5, 37, panelDates[i], 111);
  
  

  // Latitude labels (left column only)
  if (i < 4) {
    latTickValues.forEach((lat, k) => {
      const s = latTickLabels[k];
      const w = s.length === 1 ? 20 : (s === '10S' ? 61 : 63);
      const t = addText(g, 74 - w, yScale(i, lat) + 12.5, 37, s, w);
      
      
    });
  }
}

for (let i = 0; i < panelDates.length; i++) drawPanel(i);

// Right-hand headers
const rootG = document.getElementById('panels');
const obs = addText(rootG, 587, 31.5, 37, 'Observed', 150);


const cfs = addText(rootG, 1265, 31.5, 37, 'CFS Forecast', 213);



// Longitude labels beneath bottom row
[3, 7].forEach(i => {
  lonTickValues.forEach((lon, k) => {
    const s = lonTickLabels[k];
    const w = s === '0' ? 19 : (s === '60W' ? 72 : 61);
    const t = addText(rootG, xScale(i, lon) - w / 2 - (i < 4 ? (lon > 0 ? 2 : 1) : 2), 911, 37, s, w);
    
    
  });
});

// Colorbar
const cbG = document.getElementById('colorbar');
const cbX0 = 230, cbW = 54.8, cbY = 972, cbH = 22.5;
bandColors.forEach((c, k) => {
  const r = mk('rect', cbG);
  
  
  r.setAttribute('x', cbX0 + k * cbW);
  r.setAttribute('y', cbY);
  r.setAttribute('width', cbW);
  r.setAttribute('height', cbH);
  r.setAttribute('fill', c);
  r.setAttribute('stroke', '#222');
  r.setAttribute('stroke-width', '1.3');
});
colorbarLabels.forEach((s, k) => {
  const t = addText(cbG, cbX0 + (k + 1) * cbW, 1023, 29, s, null, 'middle');
  
  
});
</script>
</body>
</html>
